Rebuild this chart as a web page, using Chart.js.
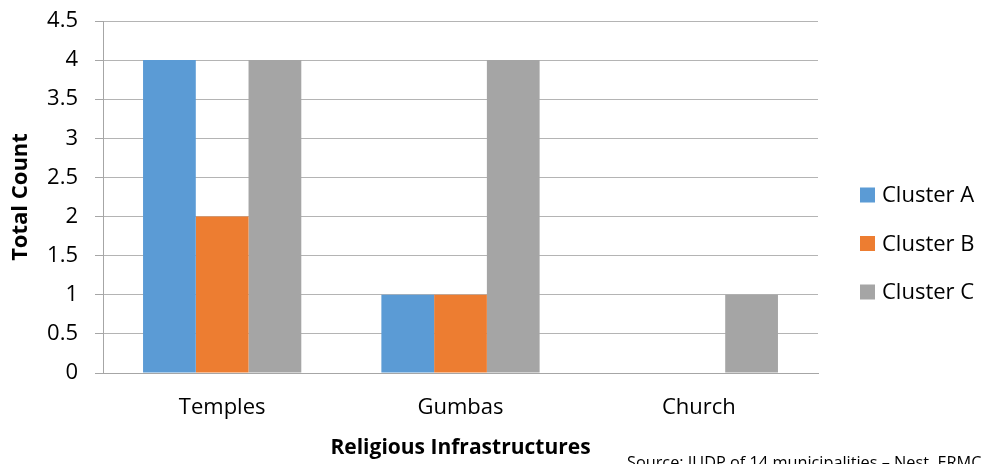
<!DOCTYPE html>
<html>
<head>
<meta charset="utf-8">
<script src="https://cdn.jsdelivr.net/npm/chart.js@4/dist/chart.umd.min.js"></script>
<style>
  html, body { margin: 0; padding: 0; background: #fff; }
  #wrap { width: 983px; height: 464px; position: relative; }
</style>
</head>
<body>
<div id="wrap"><canvas id="c" width="983" height="464"></canvas></div>
<script>
// Religious infrastructure counts per cluster
const categories = ['Temples', 'Gumbas', 'Church'];
const clusterA = [4, 1, 0];
const clusterB = [2, 1, 0];
const clusterC = [4, 4, 1];
const seriesNames = ['Cluster A', 'Cluster B', 'Cluster C'];
const seriesColors = ['#5b9bd5', '#ed7d31', '#a5a5a5'];
const sourceNote = 'Source: IUDP of 14 municipalities – Nest, ERMC';

const FONT = '"Open Sans", "Liberation Sans", sans-serif';

// Source line in the lower right corner
const sourcePlugin = {
  id: 'sourceNote',
  afterDraw(chart) {
    const ctx = chart.ctx;
    ctx.save();
    ctx.font = '16.3px ' + FONT;
    ctx.fillStyle = '#000';
    ctx.textAlign = 'left';
    ctx.textBaseline = 'alphabetic';
    ctx.fillText(sourceNote, 627, 468);
    ctx.restore();
  }
};

// Vertical legend to the right of the plot, one row per dataset
const sideLegend = {
  id: 'sideLegend',
  afterDraw(chart) {
    const ctx = chart.ctx;
    const sets = chart.data.datasets;
    const area = chart.chartArea;
    const rowGap = 48.5;
    const startY = 195;
    const boxX = area.right + 42;
    ctx.save();
    ctx.font = '22px ' + FONT;
    ctx.textAlign = 'left';
    ctx.textBaseline = 'middle';
    sets.forEach((ds, i) => {
      const y = startY + i * rowGap;
      ctx.fillStyle = ds.backgroundColor;
      ctx.fillRect(boxX, y - 7.5, 15, 15);
      ctx.fillStyle = '#000';
      ctx.fillText(ds.label, boxX + 22, y + 1);
    });
    ctx.restore();
  }
};

new Chart(document.getElementById('c'), {
  type: 'bar',
  data: {
    labels: categories,
    datasets: [clusterA, clusterB, clusterC].map((d, i) => ({
      label: seriesNames[i],
      data: d,
      backgroundColor: seriesColors[i],
      borderWidth: 0,
      categoryPercentage: 0.664,
      barPercentage: 1.0
    }))
  },
  options: {
    responsive: false,
    animation: false,
    layout: { padding: { left: 0, right: 165, top: 21, bottom: 0 } },
    plugins: {
      legend: { display: false },
      tooltip: { enabled: false }
    },
    scales: {
      x: {
        afterFit(scale) { scale.height = 91; },
        grid: { display: false, drawTicks: false },
        border: { display: true, color: '#a6a6a6', width: 1 },
        ticks: { color: '#000', font: { family: FONT, size: 22 }, padding: 22 },
        title: {
          display: true,
          text: 'Religious Infrastructures',
          color: '#000',
          font: { family: FONT, size: 21, weight: 'bold' },
          padding: { top: 0, bottom: 3 }
        }
      },
      y: {
        afterFit(scale) {
          scale.width = 103;
          scale.paddingTop = 0;
          scale.paddingBottom = 0;
        },
        min: 0,
        max: 4.5,
        ticks: {
          stepSize: 0.5,
          color: '#000',
          font: { family: FONT, size: 22 },
          padding: 17,
          callback: (v) => String(v)
        },
        grid: { color: '#b4b4b4', tickLength: 8, tickColor: '#a6a6a6' },
        border: { display: true, color: '#a6a6a6', width: 1 },
        title: {
          display: true,
          text: 'Total Count',
          color: '#000',
          font: { family: FONT, size: 22, weight: 'bold' },
          padding: { top: 8, bottom: 0 }
        }
      }
    }
  },
  plugins: [sourcePlugin, sideLegend]
});
</script>
</body>
</html>
